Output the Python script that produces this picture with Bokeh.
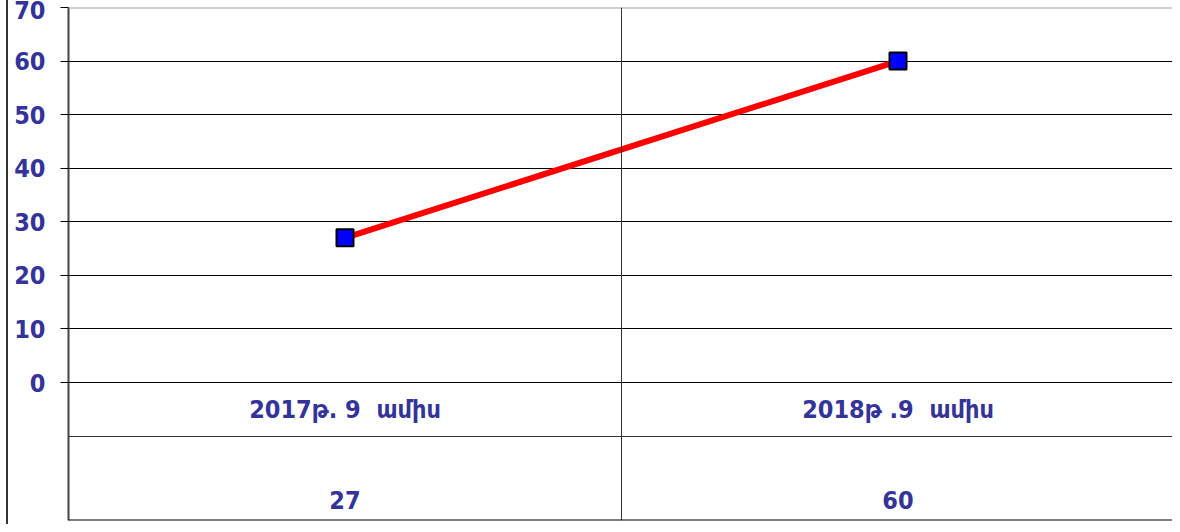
from bokeh.plotting import figure
from bokeh.models import Range1d, FixedTicker, Span, ColumnDataSource
from bokeh.core.properties import value
from bokeh.embed import file_html
from bokeh.resources import INLINE

categories = ["2017թ. 9  ամիս", "2018թ .9  ամիս"]
values = [27, 60]
value_labels = ["27", "60"]
y_ticks = [0, 10, 20, 30, 40, 50, 60, 70]

NAVY = "#333399"
FONT = "'DejaVu Sans Condensed', 'DejaVu Sans'"

xpos = [i + 0.5 for i in range(len(categories))]
cat_display = [c.replace("  ", "\u00a0\u00a0") for c in categories]
src = ColumnDataSource(dict(x=xpos, y=values, cat=cat_display, lab=value_labels))

p = figure(width=1166, height=524, output_backend="svg", toolbar_location=None,
           x_range=Range1d(0, len(categories)), y_range=Range1d(-25.76, 70),
           min_border_left=60, min_border_right=0, min_border_top=7, min_border_bottom=4)
p.styles = {"margin-left": "6px", "border-left": "2px solid #333333"}
p.outline_line_color = None
p.xaxis.visible = False
p.xgrid.visible = False

ax = p.yaxis[0]
ax.ticker = FixedTicker(ticks=y_ticks)
ax.major_label_text_font = FONT
ax.major_label_text_font_style = "bold"
ax.major_label_text_font_size = "25px"
ax.major_label_text_color = NAVY
ax.major_tick_in = 0
ax.major_tick_out = 8
ax.major_tick_line_color = "black"
ax.minor_tick_line_color = None
ax.axis_line_color = "#444444"
ax.axis_line_width = 2
ax.major_label_standoff = 15

p.ygrid.ticker = FixedTicker(ticks=y_ticks)
p.ygrid.grid_line_color = "black"
p.ygrid.grid_line_width = 1

# frame / table lines
p.add_layout(Span(location=70, dimension="width", line_color="#a0a0a0", line_width=2))
p.add_layout(Span(location=1, dimension="height", line_color="#333333", line_width=1))
p.add_layout(Span(location=len(categories), dimension="height", line_color="#a0a0a0", line_width=2))
p.add_layout(Span(location=-10.08, dimension="width", line_color="#333333", line_width=1))
p.add_layout(Span(location=-25.76, dimension="width", line_color="black", line_width=2))

p.line("x", "y", source=src, line_color="red", line_width=6)
p.scatter("x", "y", source=src, marker="square", size=17, fill_color="#0000ff",
          line_color="black", line_width=2)

p.text("x", -5.04, text="cat", source=src, text_font=value(FONT), text_font_style="bold",
       text_font_size="25px", text_color=NAVY, text_align="center", text_baseline="middle")
p.text("x", -22.0, text="lab", source=src, text_font=value(FONT), text_font_style="bold",
       text_font_size="25px", text_color=NAVY, text_align="center", text_baseline="middle")

open("out.html", "w").write(file_html(p, INLINE))
